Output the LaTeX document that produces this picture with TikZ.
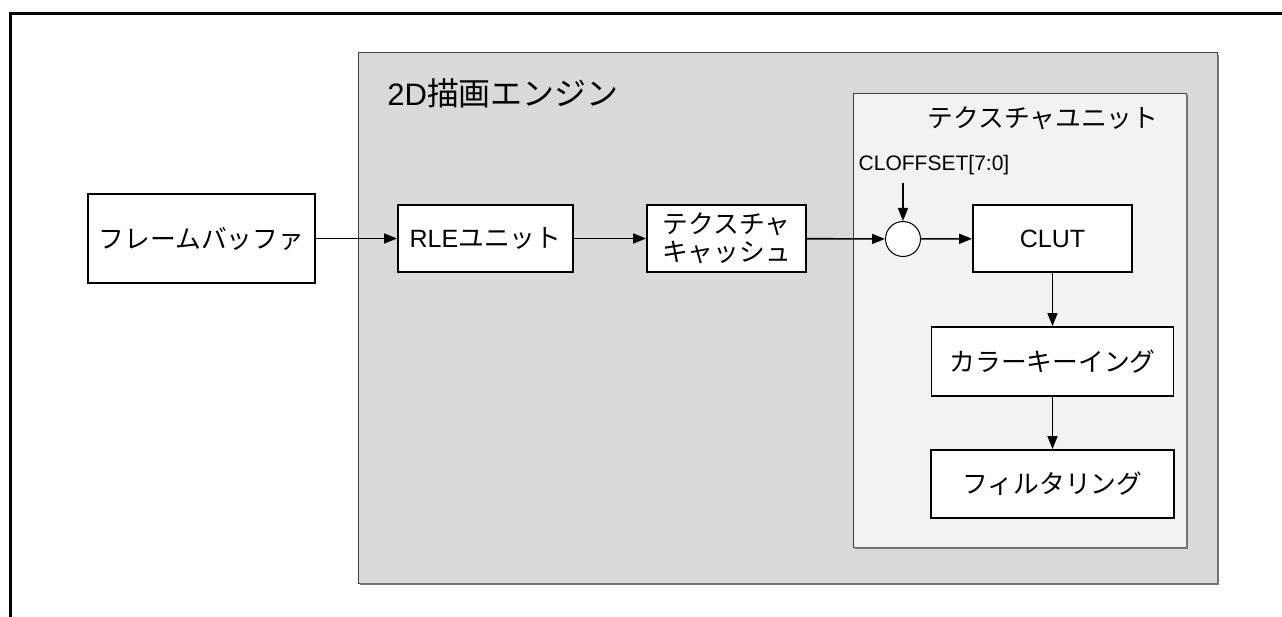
\documentclass[tikz,border=0pt]{standalone}
\usepackage{fontspec}
\setmainfont{Liberation Sans}
\newfontfamily\jp[Scale=1.03]{Noto Sans CJK JP}
\usetikzlibrary{arrows.meta, positioning}

\tikzset{
  block/.style={draw, line width=1.8pt, fill=white, minimum width=#1, minimum height=67pt,
                inner sep=0pt, align=center, font=\fontsize{25}{28}\selectfont},
  block/.default=159pt,
  flow/.style={line width=1.6pt, -{Triangle[length=13pt,width=10pt]}},
  panel/.style={draw=black!75, line width=1pt},
  shade/.style={draw=black!55, line width=1.5pt}
}

\begin{document}
\begin{tikzpicture}[x=1pt,y=-1pt]
\useasboundingbox (0,0) rectangle (1282,617);

% page frame
\coordinate (frameBL) at (10.5,617);
\coordinate (frameTR) at (1282,14);
\draw[line width=3pt] (frameBL) |- (frameTR);

% 2D engine and texture unit panels
\filldraw[panel, fill=black!15] (358,53) rectangle (1217,583);
\draw[shade] (359.5,584) -- (1218,584) -- (1218,55);
\filldraw[panel, fill=black!5] (853,94) rectangle (1186,547);
\draw[shade, line width=1.2pt] (854.5,548) -- (1187,548) -- (1187,95.5);

\node[font=\fontsize{31}{34}\selectfont] (engineTitle) at (503,93) {2D{\jp 描画エンジン}};
\node[font=\fontsize{25}{28}\selectfont] (unitTitle) at (1043,118) {\jp テクスチャユニット};

% blocks
\node[block=227pt, minimum height=89pt] (fbuf) at (201.5,238.5) {\jp フレームバッファ};
\node[block=175pt] (rle) at (485.5,238.5) {RLE{\jp ユニット}};
\node[block] (cache) at (726.5,238.5) {\jp テクスチャ\\\jp キャッシュ};
\node[circle, draw, line width=1pt, fill=white, minimum size=35pt, inner sep=0pt] (mix) at (903,239) {};
\node[font=\fontsize{21}{24}\selectfont] (cloffset) at (934,165) {CLOFFSET[7:0]};
\coordinate (offsetIn) at (903,183);
\node[block] (clut) at (1052.5,238.5) {CLUT};
\node[block=242pt, minimum height=69pt] (ckey) at (1052.5,361.5) {\jp カラーキーイング};
\node[block=243pt, minimum height=68pt] (filter) at (1052.5,484) {\jp フィルタリング};

% data flow
\draw[flow] (fbuf) -- (rle);
\draw[flow] (rle) -- (cache);
\draw[flow] (cache) -- (mix);
\draw[flow] (offsetIn) -- (mix);
\draw[flow] (mix) -- (clut);
\draw[flow] (clut) -- (ckey);
\draw[flow] (ckey) -- (filter);
\end{tikzpicture}
\end{document}
